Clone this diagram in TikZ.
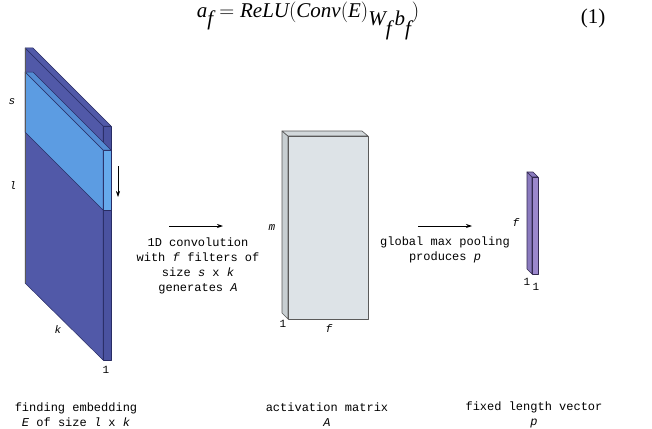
\documentclass[tikz,border=0pt]{standalone}
\usepackage{fontspec}
\setmainfont{Liberation Serif}
\newfontfamily\monof{Liberation Mono}
\usetikzlibrary{arrows.meta}
\definecolor{slabfront}{RGB}{81,89,168}
\definecolor{slabside}{RGB}{74,82,160}
\definecolor{slabline}{RGB}{40,44,100}
\definecolor{filtfront}{RGB}{92,156,226}
\definecolor{filtside}{RGB}{102,170,236}
\definecolor{filttop}{RGB}{84,140,212}
\definecolor{matfront}{RGB}{221,227,231}
\definecolor{matside}{RGB}{200,207,210}
\definecolor{mattop}{RGB}{210,216,219}
\definecolor{matline}{RGB}{90,90,90}
\definecolor{vecfront}{RGB}{155,135,204}
\definecolor{vecside}{RGB}{138,122,190}
\definecolor{vecline}{RGB}{50,40,80}
\begin{document}
\begin{tikzpicture}[x=1pt,y=-1pt,
  txt/.style={font=\monof\fontsize{12}{15}\selectfont, align=center, inner sep=0pt},
  lbl/.style={font=\monof\fontsize{11}{13}\selectfont, inner sep=0pt},
  flow/.style={-{Stealth[length=6pt,width=4pt]}, line width=0.7pt},
  slabedge/.style={draw=slabline, line width=0.5pt, line join=round},
  matedge/.style={draw=matline, line width=0.6pt, line join=round},
  vecedge/.style={draw=vecline, line width=0.6pt, line join=round}]
\useasboundingbox (0,0) rectangle (652,428);

% equation
\node[inner sep=0pt, font=\fontsize{21}{24}\selectfont] (eq) at (308,21)
  {$\textit{a}_{\textit{f}} = \textit{ReLU}(\textit{Conv}(\textit{E})_{\textit{W}_{\textit{f}}\,\textit{b}_{\textit{f}}})$};
\node[inner sep=0pt, font=\fontsize{21}{24}\selectfont] (eqnum) at (593,18) {(1)};

% embedding slab
\fill[slabside, slabedge] (103,126) -- (111,126) -- (111,360) -- (103,360) -- cycle;
\fill[slabfront, slabedge] (25,48) -- (33,48) -- (111,126) -- (103,126) -- cycle;
\fill[slabfront, slabedge] (25,48) -- (103,126) -- (103,360) -- (25,283) -- cycle;
\draw[gray!70!black, line width=0.8pt] (25,48) -- (25,283);
% filter
\fill[filtside, slabedge] (103,150) -- (111,150) -- (111,210) -- (103,210) -- cycle;
\fill[filttop, slabedge] (25,72) -- (33,72) -- (111,150) -- (103,150) -- cycle;
\fill[filtfront, slabedge] (25,72) -- (103,150) -- (103,210) -- (25,132) -- cycle;
\draw[gray!70!black, line width=0.8pt] (25,72) -- (25,132);

\coordinate (dA) at (118,166);
\coordinate (dB) at (118,197);
\draw[-{Stealth[length=6pt,width=4pt]}, line width=0.6pt] (dA) -- (dB);

\node[lbl] (ls) at (12,102) {\textit{s}};
\node[lbl] (ll) at (13,186) {\textit{l}};
\node[lbl] (lk) at (58,330) {\textit{k}};
\node[lbl] (l1) at (106,370) {1};

% arrow 1 and text
\coordinate (a1s) at (169,226);
\coordinate (a1e) at (223,226);
\draw[flow] (a1s) -- (a1e);
\node[txt] (conv) at (198,266) {1D convolution\\with \textit{f} filters of\\size \textit{s} x \textit{k}\\generates \textit{A}};

% activation matrix
\fill[matside, matedge] (282,131) -- (288,136) -- (288,319) -- (282,313) -- cycle;
\fill[mattop, matedge] (282,131) -- (362,131) -- (368,136) -- (288,136) -- cycle;
\fill[matfront, matedge] (288,136) rectangle (368,319);
\node[lbl] (lm) at (272,228) {\textit{m}};
\node[lbl] (lm1) at (283,324) {1};
\node[lbl] (lmf) at (329,329) {\textit{f}};

% arrow 2 and text
\coordinate (a2s) at (418,226);
\coordinate (a2e) at (472,226);
\draw[flow] (a2s) -- (a2e);
\node[txt] (pool) at (445,249.5) {global max pooling\\produces \textit{p}};

% vector
\fill[vecside, vecedge] (527,172) -- (532,177) -- (532,274) -- (527,269) -- cycle;
\fill[vecside, vecedge] (527,172) -- (533,172) -- (538,177) -- (532,177) -- cycle;
\fill[vecfront, vecedge] (532,177) rectangle (538,274);
\node[lbl] (lvf) at (516,223) {\textit{f}};
\node[lbl] (lv1) at (527,282) {1};
\node[lbl] (lv2) at (536,287) {1};

% captions
\node[txt] (cap1) at (76,414.5) {finding embedding\\\textit{E} of size \textit{l} x \textit{k}};
\node[txt] (cap2) at (327,414.5) {activation matrix\\\textit{A}};
\node[txt] (cap3) at (534,414.5) {fixed length vector\\\textit{p}};
\end{tikzpicture}
\end{document}
